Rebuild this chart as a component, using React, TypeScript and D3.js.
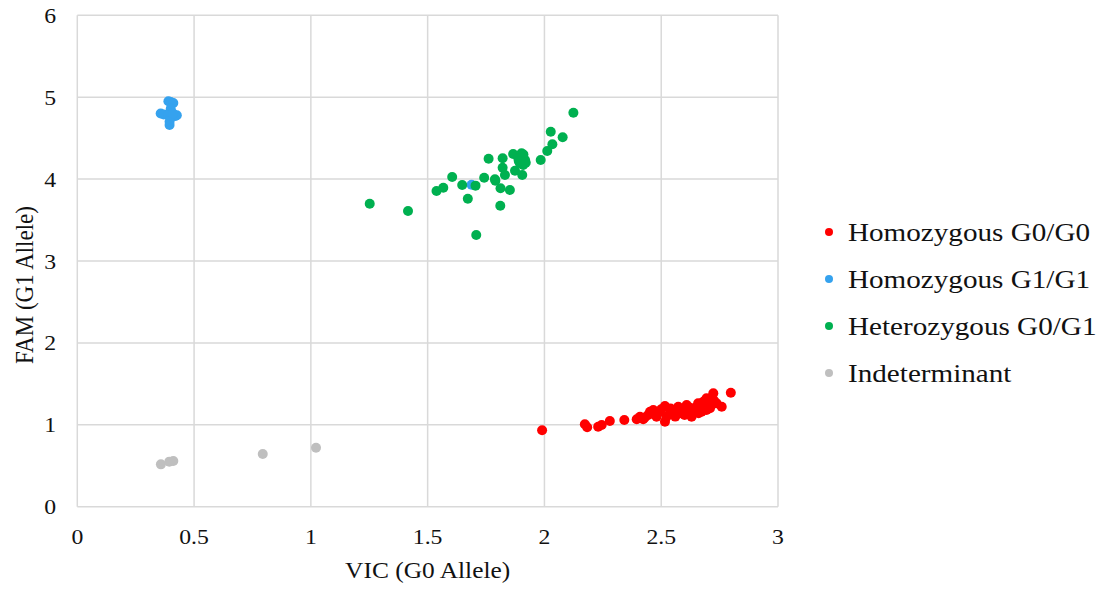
import React from "react";
import * as d3 from "d3";

const xTicks = [0, 0.5, 1, 1.5, 2, 2.5, 3];
const yTicks = [0, 1, 2, 3, 4, 5, 6];
const xTickLabels = ["0", "0.5", "1", "1.5", "2", "2.5", "3"];
const yTickLabels = ["0", "1", "2", "3", "4", "5", "6"];

const seriesNames = ["Homozygous G0/G0", "Homozygous G1/G1", "Heterozygous G0/G1", "Indeterminant"];
const seriesColors = ["#FF0000", "#35A2EE", "#00B050", "#BFBFBF"];

const homoG0: [number, number][] = [
  [1.99, 0.933], [2.173, 1.006], [2.183, 0.969], [2.23, 0.977], [2.245, 0.998],
  [2.28, 1.046], [2.342, 1.059], [2.395, 1.067], [2.423, 1.067], [2.444, 1.12],
  [2.466, 1.181], [2.48, 1.099], [2.516, 1.23], [2.516, 1.038], [2.537, 1.14],
  [2.573, 1.221], [2.58, 1.14], [2.609, 1.242], [2.609, 1.14], [2.637, 1.201],
  [2.658, 1.262], [2.68, 1.221], [2.694, 1.323], [2.723, 1.385], [2.716, 1.282],
  [2.709, 1.201], [2.759, 1.221], [2.798, 1.392], [2.552, 1.181], [2.595, 1.16],
  [2.644, 1.181], [2.673, 1.16], [2.68, 1.282], [2.737, 1.262], [2.694, 1.181],
  [2.494, 1.16], [2.452, 1.16], [2.409, 1.099], [2.523, 1.099], [2.63, 1.099],
  [2.56, 1.1], [2.6, 1.12], [2.66, 1.14], [2.47, 1.13], [2.43, 1.09],
  [2.5, 1.19], [2.54, 1.2], [2.62, 1.21], [2.7, 1.25], [2.725, 1.3],
];

const homoG1: [number, number][] = [
  [0.357, 4.80], [0.37, 4.79], [0.39, 4.95], [0.40, 4.94], [0.411, 4.93],
  [0.40, 4.86], [0.39, 4.78], [0.40, 4.75], [0.42, 4.77], [0.426, 4.78],
  [0.395, 4.70], [0.395, 4.66], [0.41, 4.80], [1.688, 3.93],
];

const hetero: [number, number][] = [
  [2.124, 4.811], [2.027, 4.579], [2.078, 4.51], [2.034, 4.425], [2.012, 4.343],
  [1.984, 4.233], [1.866, 4.307], [1.902, 4.315], [1.888, 4.254], [1.917, 4.233],
  [1.895, 4.193], [1.909, 4.172], [1.874, 4.103], [1.905, 4.05], [1.821, 4.254],
  [1.821, 4.139], [1.831, 4.05], [1.761, 4.249], [1.788, 3.998], [1.742, 4.017],
  [1.812, 3.888], [1.852, 3.867], [1.605, 4.026], [1.648, 3.928], [1.705, 3.92],
  [1.567, 3.895], [1.538, 3.855], [1.672, 3.761], [1.811, 3.675], [1.252, 3.70],
  [1.416, 3.61], [1.708, 3.318], [1.90, 4.26], [1.91, 4.30], [1.89, 4.22],
  [1.92, 4.20], [1.79, 3.98],
];

const indet: [number, number][] = [
  [0.358, 0.517], [0.394, 0.55], [0.411, 0.558], [0.794, 0.643], [1.022, 0.72],
];

const allSeries = [homoG0, homoG1, hetero, indet];
const drawOrder = [0, 1, 2, 3];

const W = 1102;
const H = 590;
const left = 77.3;
const right = 778;
const top = 15.3;
const bottom = 506.7;
const SX = 1.13;
const FONT = "'Liberation Serif', 'Times New Roman', serif";

export default function App() {
  const x = d3.scaleLinear().domain([0, 3]).range([left, right]);
  const y = d3.scaleLinear().domain([0, 6]).range([bottom, top]);

  return (
    <svg
      width={W}
      height={H}
      style={{ position: "absolute", left: 0, top: 0, background: "#fff" }}
      fontFamily={FONT}
    >
      <rect x={0} y={0} width={W} height={H} fill="#fff" />
      {xTicks.map((t) => (
        <line key={"gx" + t} x1={x(t)} x2={x(t)} y1={top} y2={bottom} stroke="#D9D9D9" strokeWidth={1.5} />
      ))}
      {yTicks.map((t) => (
        <line key={"gy" + t} x1={left} x2={right} y1={y(t)} y2={y(t)} stroke="#D9D9D9" strokeWidth={1.5} />
      ))}
      {xTicks.map((t, i) => (
        <text
          key={"xt" + t}
          transform={`translate(${x(t)},544) scale(${SX},1)`}
          textAnchor="middle"
          fontSize={21}
          fill="#111"
        >
          {xTickLabels[i]}
        </text>
      ))}
      {yTicks.map((t, i) => (
        <text
          key={"yt" + t}
          transform={`translate(56,${y(t) + 7.5}) scale(${SX},1)`}
          textAnchor="end"
          fontSize={21}
          fill="#111"
        >
          {yTickLabels[i]}
        </text>
      ))}
      <text
        transform={`translate(${(left + right) / 2},578) scale(${SX},1)`}
        textAnchor="middle"
        fontSize={22.5}
        fill="#111"
      >
        VIC (G0 Allele)
      </text>
      <text
        transform={`translate(33,285) rotate(-90) scale(1,${SX})`}
        textAnchor="middle"
        fontSize={23}
        fill="#111"
      >
        FAM (G1 Allele)
      </text>
      {drawOrder.map((si) => (
        <g key={"s" + si}>
          {allSeries[si].map((d, j) => (
            <circle key={j} cx={x(d[0])} cy={y(d[1])} r={5} fill={seriesColors[si]} />
          ))}
        </g>
      ))}
      {seriesNames.map((name, i) => {
        const cy = 232 + i * 47;
        return (
          <g key={"lg" + i}>
            <circle cx={829} cy={cy} r={4} fill={seriesColors[i]} />
            <text
              transform={`translate(848,${cy + 8.5}) scale(${SX},1)`}
              fontSize={25.8}
              fill="#111"
            >
              {name}
            </text>
          </g>
        );
      })}
    </svg>
  );
}
